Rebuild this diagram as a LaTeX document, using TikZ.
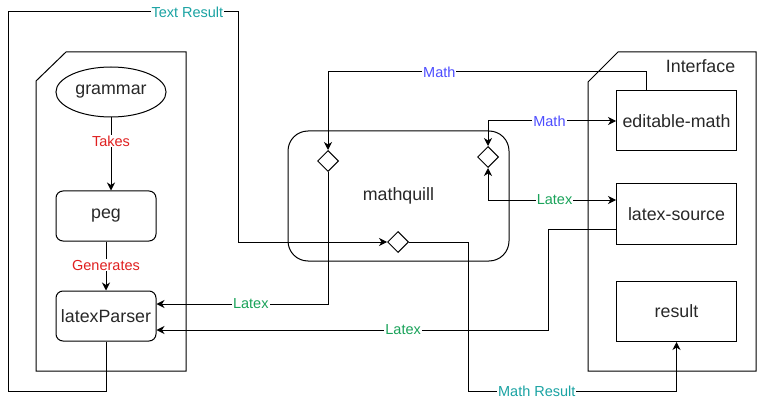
\documentclass[tikz,border=0pt]{standalone}
\usepackage{fontspec}
\setmainfont{Liberation Sans}
\usetikzlibrary{arrows.meta,shapes.geometric}
\definecolor{txt}{RGB}{40,40,40}
\definecolor{lblred}{RGB}{224,32,32}
\definecolor{lblblue}{RGB}{77,77,255}
\definecolor{lblgreen}{RGB}{26,163,90}
\definecolor{lblteal}{RGB}{26,163,163}

\begin{document}
\begin{tikzpicture}[x=1pt,y=-1pt,line width=1pt,>={Stealth[length=8pt,width=8pt,inset=2.5pt]},
  box/.style={draw,minimum width=120pt,minimum height=60pt,text=txt,font=\fontsize{17.8}{19}\selectfont},
  rbox/.style={box,rounded corners=7pt,minimum width=100pt,minimum height=50pt},
  gate/.style={draw,diamond,inner sep=0pt,minimum size=21pt},
  lbl/.style={fill=white,inner sep=1pt,font=\fontsize{14.5}{16}\selectfont}]
\useasboundingbox (0,0) rectangle (758,401);

% containers
\draw (36,81) -- (66,52) -- (186,52) -- (186,371) -- (36,371) -- cycle;
\draw (588,82) -- (618,52) -- (756,52) -- (756,371) -- (588,371) -- cycle;
\node[anchor=east,text=txt,font=\fontsize{17.8}{19}\selectfont] (iface) at (739,66) {Interface};

% parser side
\node[draw,ellipse,minimum width=90pt,minimum height=50pt,text=txt,font=\fontsize{17.8}{19}\selectfont] (grammar) at (111,92) {grammar};
\node[rbox] (peg) at (106,216) {peg};
\node[rbox] (parser) at (106,316) {latexParser};

% mathquill
\node[box,rounded corners=20pt,minimum width=221pt,minimum height=130pt] (mq) at (398.5,196) {mathquill};
\node[gate] (dl) at (328,161) {};
\node[gate] (dr) at (488,157) {};
\node[gate] (db) at (398,242) {};

% interface
\node[box] (edit) at (676.5,121) {editable-math};
\node[box] (src) at (676.5,214) {latex-source};
\node[box] (res) at (676.5,311.5) {result};

\draw[->] (grammar.south) -- node[lbl,text=lblred,pos=0.32]{Takes} (grammar.south |- peg.north);
\draw[->] (peg) -- node[lbl,text=lblred,pos=0.48]{Generates} (parser);
\draw[->] (parser.south) -- (106,391) -- (8,391) -- (8,12) -- node[lbl,text=lblteal,pos=0.78]{Text Result} (238,12) -- (238,242) -- (db.west);
\draw[->] (db.east) -- (468,242) -- (468,391) -- node[lbl,text=lblteal,pos=0.33]{Math Result} (676.5,391) -- (res.south);
\draw[->] (dl.south) |- node[lbl,text=lblgreen,pos=0.725]{Latex} ([yshift=12pt]parser.east);
\draw[->] ([yshift=-15pt]src.west) -- (548,229) -- (548,330) -- node[lbl,text=lblgreen,pos=0.37]{Latex} ([yshift=-14pt]parser.east);
\draw[->] ([xshift=-30.5pt]edit.north) -- (646,72) -- node[lbl,text=lblblue,pos=0.65]{Math} (328,72) -- (dl.north);
\draw[<->] (dr.north) |- node[lbl,text=lblblue,pos=0.74]{Math} (edit.west);
\draw[<->] (dr.south) |- node[lbl,text=lblgreen,pos=0.76]{Latex} ([yshift=14pt]src.west);
\end{tikzpicture}
\end{document}
